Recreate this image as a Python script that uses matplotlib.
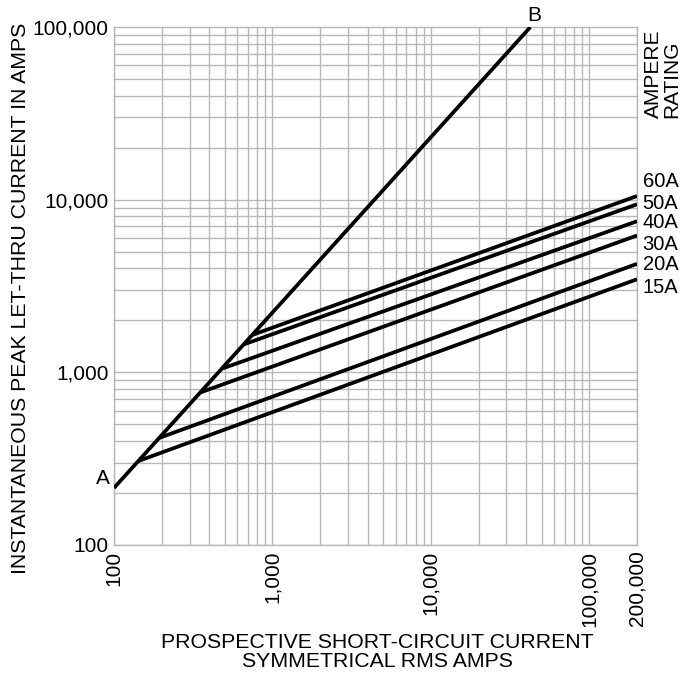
import numpy as np
import matplotlib
matplotlib.use('Agg')
import matplotlib.pyplot as plt
from matplotlib.ticker import FixedLocator, NullFormatter

plt.rcParams['font.family'] = ['Liberation Sans', 'DejaVu Sans']

# line A-B (upper limit)
ab_x = [100, 42500]
ab_y = [214, 100000]

# ampere ratings: branch point on A-B and end value at 200,000 A
ratings = ['60A', '50A', '40A', '30A', '20A', '15A']
branch_x = [745, 658, 480, 350, 193, 142]
branch_y = [1645, 1450, 1050, 764, 417, 306]
end_x = 200000
end_y = [10500, 9400, 7500, 6200, 4250, 3460]
label_dy = [10.8, 0.9, -0.9, -6.5, -0.5, -5.8]   # points, to keep labels apart

xticks = [100, 1000, 10000, 100000, 200000]
xticklabels = ['100', '1,000', '10,000', '100,000', '200,000']
yticks = [100, 1000, 10000, 100000]
yticklabels = ['100', '1,000', '10,000', '100,000']

gridc = '#b8b8b8'
fs = 15

fig = plt.figure(figsize=(6.84, 6.77), dpi=100)
ax = fig.add_axes([114/684, 132/677, 523/684, 518/677])
ax.set_xscale('log')
ax.set_yscale('log')
ax.set_xlim(100, 200000)
ax.set_ylim(100, 100000)

# grid at every 1..9 x decade
gx = [m * 10**e for e in range(2, 6) for m in range(1, 10) if m * 10**e <= 200000]
gy = [m * 10**e for e in range(2, 5) for m in range(1, 10)]
for v in gx:
    ax.axvline(v, color=gridc, lw=1.0, zorder=1)
for v in gy:
    ax.axhline(v, color=gridc, lw=1.0, zorder=1)
for s in ax.spines.values():
    s.set_color(gridc)
    s.set_linewidth(1.0)

ax.plot(ab_x, ab_y, color='black', lw=2.7, solid_capstyle='butt', zorder=3)
for lab, bx, by, ey, dy in zip(ratings, branch_x, branch_y, end_y, label_dy):
    ax.plot([bx, end_x], [by, ey], color='black', lw=2.7,
            solid_capstyle='butt', zorder=3)
    ax.annotate(lab, xy=(end_x, ey), xytext=(4, dy), textcoords='offset points',
                ha='left', va='center', fontsize=14.5, annotation_clip=False)

ax.annotate('A', xy=(ab_x[0], ab_y[0]), xytext=(-8, 6.5), textcoords='offset points',
            ha='center', va='center', fontsize=fs, annotation_clip=False)
ax.annotate('B', xy=(ab_x[1], ab_y[1]), xytext=(3, 8.5), textcoords='offset points',
            ha='center', va='center', fontsize=fs, annotation_clip=False)

ax.xaxis.set_major_locator(FixedLocator(xticks))
ax.xaxis.set_minor_formatter(NullFormatter())
ax.set_xticklabels(xticklabels, rotation=90, fontsize=fs)
ax.yaxis.set_major_locator(FixedLocator(yticks))
ax.yaxis.set_minor_formatter(NullFormatter())
ax.set_yticklabels(yticklabels, fontsize=fs)
ax.tick_params(which='both', length=0, pad=4)

ax.set_ylabel('INSTANTANEOUS PEAK LET-THRU CURRENT IN AMPS', fontsize=15.3)
ax.yaxis.set_label_coords(-0.16, 0.477)

fig.text(377/684, 1 - 652/677, 'PROSPECTIVE SHORT-CIRCUIT CURRENT\nSYMMETRICAL RMS AMPS',
         ha='center', va='center', fontsize=15.3, linespacing=0.96)
fig.text(663/684, 1 - 118/677, 'AMPERE\nRATING', rotation=90, ha='center', va='bottom',
         fontsize=fs, linespacing=0.96, multialignment='left')

fig.savefig('out.png', dpi=100)
